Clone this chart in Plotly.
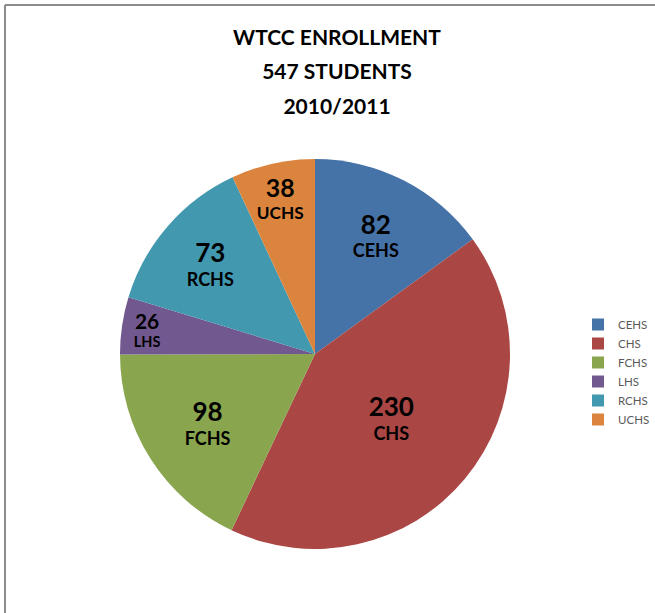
import plotly.graph_objects as go

schools = ["CEHS", "CHS", "FCHS", "LHS", "RCHS", "UCHS"]
students = [82, 230, 98, 26, 73, 38]
colors = ["#4572A7", "#AA4643", "#89A54E", "#71588F", "#4198AF", "#DB843D"]
title_lines = ["WTCC ENROLLMENT", "547 STUDENTS", "2010/2011"]

W, H = 655, 613
font_family = "Lato, Carlito, 'Open Sans', sans-serif"

fig = go.Figure(go.Pie(
    labels=schools,
    values=students,
    sort=False,
    direction="clockwise",
    rotation=0,
    marker=dict(colors=colors, line=dict(width=0)),
    texttemplate="<b><span style='font-size:26px'>%{value}</span></b><br><b>%{label}</b>",
    textposition="inside",
    insidetextorientation="horizontal",
    textfont=dict(family=font_family, size=18, color="black"),
    hoverinfo="label+value",
    domain=dict(x=[120 / W, 510 / W], y=[(H - 549) / H, (H - 159) / H]),
))

title_text = "<br>".join(
    "<b><span style='font-size:21px'>" + t + "</span></b>" for t in title_lines
)

fig.update_layout(
    width=W, height=H,
    margin=dict(l=0, r=0, t=0, b=0),
    paper_bgcolor="white",
    plot_bgcolor="white",
    font=dict(family=font_family),
    title=dict(
        text=title_text,
        x=337 / W, xanchor="center",
        y=1 - 45 / H, yanchor="top",
        font=dict(size=26.5, color="black", family=font_family),
    ),
    legend=dict(
        x=1.0, xanchor="right",
        y=1 - 372 / H, yanchor="middle",
        font=dict(size=11.5, color="#595959", family=font_family),
        itemwidth=30,
        traceorder="normal",
    ),
    shapes=[
        dict(type="line", xref="paper", yref="paper",
             x0=5 / W, x1=5 / W, y0=0, y1=1 - 5 / H,
             line=dict(color="#8c8c8c", width=2)),
        dict(type="line", xref="paper", yref="paper",
             x0=5 / W, x1=1, y0=1 - 5 / H, y1=1 - 5 / H,
             line=dict(color="#8c8c8c", width=2)),
    ],
)

fig.write_html(
    "out.html",
    config={"displayModeBar": False},
    post_script="document.body.style.margin='0';document.body.style.overflow='hidden';",
)
